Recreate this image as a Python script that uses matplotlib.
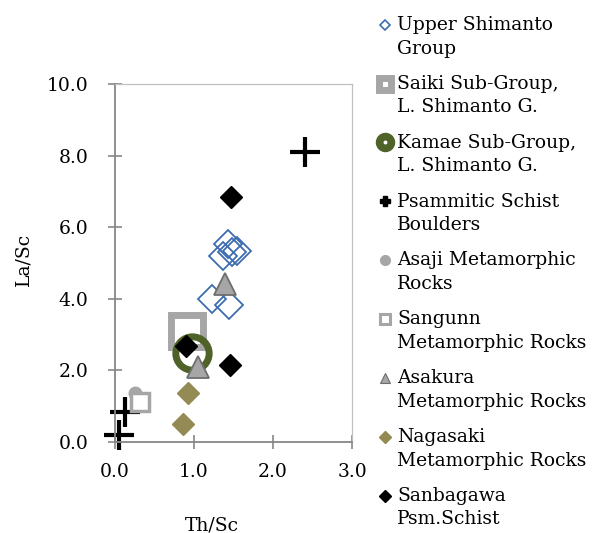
import matplotlib
matplotlib.use('Agg')
import matplotlib.pyplot as plt
from matplotlib.lines import Line2D
from matplotlib.legend_handler import HandlerLine2D
from matplotlib.transforms import Affine2D

plt.rcParams['font.family'] = ['DejaVu Serif']

# ── データ ──────────────────────────────────────────────
upper_x = [1.43, 1.55, 1.37, 1.48, 1.23, 1.44]
upper_y = [5.52, 5.34, 5.20, 5.32, 3.99, 3.83]
saiki_x = [0.91]
saiki_y = [3.11]
kamae_x = [0.98]
kamae_y = [2.48]
psam_x = [2.41, 0.05, 0.13]
psam_y = [8.09, 0.20, 0.85]
asaji_x = [0.25, 0.32]
asaji_y = [1.36, 1.23]
sangunn_x = [0.32]
sangunn_y = [1.13]
asakura_x = [1.39, 1.05]
asakura_y = [4.41, 2.10]
nagasaki_x = [0.92, 0.86]
nagasaki_y = [1.36, 0.50]
sanba_x = [1.47, 0.90, 1.46]
sanba_y = [6.85, 2.68, 2.15]

labels = ['Upper Shimanto\nGroup',
          'Saiki Sub-Group,\nL. Shimanto G.',
          'Kamae Sub-Group,\nL. Shimanto G.',
          'Psammitic Schist\nBoulders',
          'Asaji Metamorphic\nRocks',
          'Sangunn\nMetamorphic Rocks',
          'Asakura\nMetamorphic Rocks',
          'Nagasaki\nMetamorphic Rocks',
          'Sanbagawa\nPsm.Schist']

fig = plt.figure(figsize=(5.93, 5.33), dpi=100)
ax = fig.add_axes([0.1939, 0.1707, 0.3997, 0.6717])

kw = dict(ls='none', clip_on=False)
ax.plot(upper_x, upper_y, 'D', ms=14, mfc='none', mec='#3C6DB0', mew=1.3, **kw)
ax.plot(saiki_x, saiki_y, 's', ms=23, mfc='none', mec='#A6A6A6', mew=5, **kw)
ax.plot(kamae_x, kamae_y, 'o', ms=24, mfc='none', mec='#4F6228', mew=5, **kw)
ax.plot(psam_x, psam_y, '+', ms=22, mec='black', mew=3, **kw)
ax.plot(asaji_x, asaji_y, 'o', ms=9, mfc='#A6A6A6', mec='#A6A6A6', **kw)
ax.plot(sangunn_x, sangunn_y, 's', ms=13, mfc='white', mec='#A6A6A6', mew=2.5, **kw)
ax.plot(asakura_x, asakura_y, '^', ms=16, mfc='#A6A6A6', mec='#6E6E6E', mew=1.3, **kw)
ax.plot(nagasaki_x, nagasaki_y, 'D', ms=11, mfc='#948A54', mec='#948A54', **kw)
ax.plot(sanba_x, sanba_y, 'D', ms=11, mfc='black', mec='black', **kw)

ax.set_xlim(0, 3)
ax.set_ylim(0, 10)
ax.set_xticks([0, 1, 2, 3])
ax.set_xticklabels(['0.0', '1.0', '2.0', '3.0'])
ax.set_yticks([0, 2, 4, 6, 8, 10])
ax.set_yticklabels(['0.0', '2.0', '4.0', '6.0', '8.0', '10.0'])
ax.tick_params(direction='inout', length=10, width=1.2, color='#878787',
               labelsize=13.5)
ax.tick_params(axis='y', pad=14)
ax.tick_params(axis='x', pad=10)
for s in ['left', 'bottom']:
    ax.spines[s].set_color('#878787')
    ax.spines[s].set_linewidth(1.3)
for s in ['top', 'right']:
    ax.spines[s].set_color('#C0C0C0')
    ax.spines[s].set_linewidth(0.9)
ax.set_xlabel('Th/Sc', fontsize=13.5, va='center')
ax.xaxis.set_label_coords(0.41, -0.232)
ax.set_ylabel('La/Sc', fontsize=13.5, va='center')
ax.yaxis.set_label_coords(-0.384, 0.51)


# 凡例マーカーを1行目にそろえる
class FirstLineHandler(HandlerLine2D):
    def create_artists(self, legend, orig_handle, xdescent, ydescent,
                       width, height, fontsize, trans):
        arts = super().create_artists(legend, orig_handle, xdescent, ydescent,
                                      width, height, fontsize, trans)
        shift = trans + Affine2D().translate(0, 12.5)
        for a in arts:
            a.set_transform(shift)
        return arts


handles = [
    Line2D([], [], marker='D', ms=5, mfc='none', mec='#3C6DB0', mew=1.2, ls='none'),
    Line2D([], [], marker='s', ms=8, mfc='white', mec='#A6A6A6', mew=5, ls='none'),
    Line2D([], [], marker='o', ms=8.5, mfc='white', mec='#4F6228', mew=5.5, ls='none'),
    Line2D([], [], marker='P', ms=7, mfc='black', mec='black', ls='none'),
    Line2D([], [], marker='o', ms=7, mfc='#A6A6A6', mec='#A6A6A6', ls='none'),
    Line2D([], [], marker='s', ms=7, mfc='white', mec='#A6A6A6', mew=2.2, ls='none'),
    Line2D([], [], marker='^', ms=7, mfc='#A6A6A6', mec='#6E6E6E', mew=0.8, ls='none'),
    Line2D([], [], marker='D', ms=6, mfc='#948A54', mec='#948A54', ls='none'),
    Line2D([], [], marker='D', ms=6, mfc='black', mec='black', ls='none'),
]
leg = fig.legend(handles, labels, loc='upper left', bbox_to_anchor=(0.637, 0.970),
                 frameon=False, fontsize=13.5, handlelength=0.8, handletextpad=0.25,
                 labelspacing=0.92, borderaxespad=0, borderpad=0,
                 handler_map={Line2D: FirstLineHandler()})
for t in leg.get_texts():
    t.set_linespacing(1.4)

plt.savefig('out.png', dpi=100)
